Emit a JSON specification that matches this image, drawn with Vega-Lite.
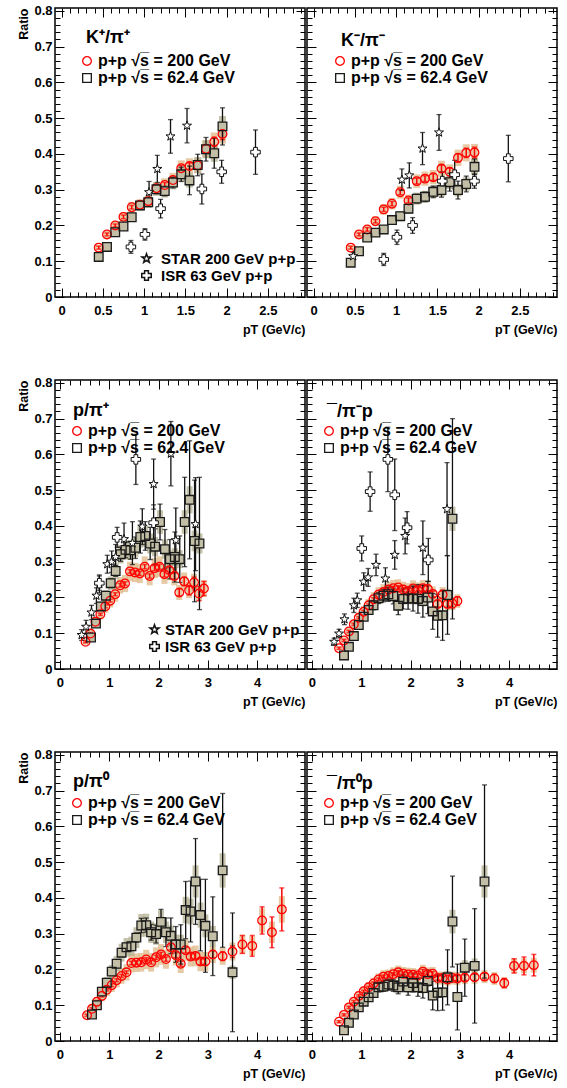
{
"$schema":"https://vega.github.io/schema/vega-lite/v6.json",
"padding":{"left":17,"top":4,"right":0,"bottom":0},
"background":"#ffffff",
"datasets":{"d":[
{"p":1,"s":"a","x":0.45,"y":0.138,"e":0.004,"u":0.008},{"p":1,"s":"a","x":0.55,"y":0.175,"e":0.004,"u":0.01},{"p":1,"s":"a","x":0.65,"y":0.2,"e":0.004,"u":0.012},{"p":1,"s":"a","x":0.75,"y":0.224,"e":0.005,"u":0.013},{"p":1,"s":"a","x":0.85,"y":0.251,"e":0.005,"u":0.015},{"p":1,"s":"a","x":0.95,"y":0.258,"e":0.005,"u":0.015},{"p":1,"s":"a","x":1.05,"y":0.268,"e":0.006,"u":0.016},{"p":1,"s":"a","x":1.15,"y":0.304,"e":0.006,"u":0.018},{"p":1,"s":"a","x":1.25,"y":0.313,"e":0.007,"u":0.019},{"p":1,"s":"a","x":1.35,"y":0.327,"e":0.007,"u":0.02},{"p":1,"s":"a","x":1.45,"y":0.36,"e":0.008,"u":0.022},{"p":1,"s":"a","x":1.55,"y":0.366,"e":0.009,"u":0.022},{"p":1,"s":"a","x":1.65,"y":0.368,"e":0.01,"u":0.022},{"p":1,"s":"a","x":1.75,"y":0.414,"e":0.011,"u":0.025},{"p":1,"s":"a","x":1.85,"y":0.434,"e":0.013,"u":0.026},{"p":1,"s":"a","x":1.95,"y":0.456,"e":0.016,"u":0.027},
{"p":1,"s":"b","x":0.45,"y":0.112,"e":0.004,"u":0.007},{"p":1,"s":"b","x":0.55,"y":0.14,"e":0.005,"u":0.008},{"p":1,"s":"b","x":0.65,"y":0.181,"e":0.006,"u":0.011},{"p":1,"s":"b","x":0.75,"y":0.197,"e":0.007,"u":0.012},{"p":1,"s":"b","x":0.85,"y":0.223,"e":0.008,"u":0.013},{"p":1,"s":"b","x":0.95,"y":0.256,"e":0.009,"u":0.015},{"p":1,"s":"b","x":1.05,"y":0.265,"e":0.01,"u":0.016},{"p":1,"s":"b","x":1.15,"y":0.301,"e":0.012,"u":0.018},{"p":1,"s":"b","x":1.25,"y":0.296,"e":0.013,"u":0.018},{"p":1,"s":"b","x":1.35,"y":0.32,"e":0.015,"u":0.019},{"p":1,"s":"b","x":1.45,"y":0.343,"e":0.02,"u":0.021},{"p":1,"s":"b","x":1.55,"y":0.326,"e":0.04,"u":0.02},{"p":1,"s":"b","x":1.65,"y":0.369,"e":0.03,"u":0.022},{"p":1,"s":"b","x":1.75,"y":0.413,"e":0.033,"u":0.025},{"p":1,"s":"b","x":1.85,"y":0.402,"e":0.042,"u":0.024},{"p":1,"s":"b","x":1.95,"y":0.477,"e":0.052,"u":0.029},
{"p":1,"s":"S","x":1.06,"y":0.293,"e":0.03},{"p":1,"s":"S","x":1.16,"y":0.358,"e":0.038},{"p":1,"s":"S","x":1.32,"y":0.449,"e":0.047},{"p":1,"s":"S","x":1.52,"y":0.479,"e":0.048},
{"p":1,"s":"I","x":0.84,"y":0.14,"e":0.018},{"p":1,"s":"I","x":1.01,"y":0.175,"e":0.016},{"p":1,"s":"I","x":1.2,"y":0.247,"e":0.026},{"p":1,"s":"I","x":1.7,"y":0.302,"e":0.042},{"p":1,"s":"I","x":1.94,"y":0.35,"e":0.032},{"p":1,"s":"I","x":2.35,"y":0.405,"e":0.062},
{"p":2,"s":"a","x":0.45,"y":0.138,"e":0.004,"u":0.008},{"p":2,"s":"a","x":0.55,"y":0.175,"e":0.004,"u":0.011},{"p":2,"s":"a","x":0.65,"y":0.189,"e":0.005,"u":0.011},{"p":2,"s":"a","x":0.75,"y":0.212,"e":0.005,"u":0.013},{"p":2,"s":"a","x":0.85,"y":0.245,"e":0.006,"u":0.015},{"p":2,"s":"a","x":0.95,"y":0.261,"e":0.006,"u":0.016},{"p":2,"s":"a","x":1.05,"y":0.293,"e":0.007,"u":0.018},{"p":2,"s":"a","x":1.15,"y":0.27,"e":0.007,"u":0.016},{"p":2,"s":"a","x":1.25,"y":0.324,"e":0.008,"u":0.019},{"p":2,"s":"a","x":1.35,"y":0.331,"e":0.008,"u":0.02},{"p":2,"s":"a","x":1.45,"y":0.335,"e":0.009,"u":0.02},{"p":2,"s":"a","x":1.55,"y":0.359,"e":0.01,"u":0.022},{"p":2,"s":"a","x":1.65,"y":0.35,"e":0.011,"u":0.021},{"p":2,"s":"a","x":1.75,"y":0.389,"e":0.012,"u":0.023},{"p":2,"s":"a","x":1.85,"y":0.403,"e":0.013,"u":0.024},{"p":2,"s":"a","x":1.95,"y":0.404,"e":0.015,"u":0.024},
{"p":2,"s":"b","x":0.45,"y":0.096,"e":0.004,"u":0.006},{"p":2,"s":"b","x":0.55,"y":0.128,"e":0.005,"u":0.008},{"p":2,"s":"b","x":0.65,"y":0.166,"e":0.006,"u":0.01},{"p":2,"s":"b","x":0.75,"y":0.18,"e":0.006,"u":0.011},{"p":2,"s":"b","x":0.85,"y":0.189,"e":0.007,"u":0.011},{"p":2,"s":"b","x":0.95,"y":0.215,"e":0.008,"u":0.013},{"p":2,"s":"b","x":1.05,"y":0.226,"e":0.009,"u":0.014},{"p":2,"s":"b","x":1.15,"y":0.247,"e":0.01,"u":0.015},{"p":2,"s":"b","x":1.25,"y":0.275,"e":0.012,"u":0.017},{"p":2,"s":"b","x":1.35,"y":0.28,"e":0.013,"u":0.017},{"p":2,"s":"b","x":1.45,"y":0.294,"e":0.016,"u":0.018},{"p":2,"s":"b","x":1.55,"y":0.299,"e":0.02,"u":0.018},{"p":2,"s":"b","x":1.65,"y":0.321,"e":0.025,"u":0.019},{"p":2,"s":"b","x":1.75,"y":0.299,"e":0.025,"u":0.018},{"p":2,"s":"b","x":1.85,"y":0.316,"e":0.022,"u":0.019},{"p":2,"s":"b","x":1.95,"y":0.364,"e":0.022,"u":0.022},
{"p":2,"s":"S","x":0.48,"y":0.114,"e":0.01},{"p":2,"s":"S","x":1.07,"y":0.328,"e":0.03},{"p":2,"s":"S","x":1.16,"y":0.34,"e":0.035},{"p":2,"s":"S","x":1.32,"y":0.415,"e":0.045},{"p":2,"s":"S","x":1.52,"y":0.46,"e":0.05},
{"p":2,"s":"I","x":0.85,"y":0.105,"e":0.017},{"p":2,"s":"I","x":1.01,"y":0.167,"e":0.02},{"p":2,"s":"I","x":1.2,"y":0.2,"e":0.022},{"p":2,"s":"I","x":1.56,"y":0.324,"e":0.025},{"p":2,"s":"I","x":1.71,"y":0.342,"e":0.04},{"p":2,"s":"I","x":1.95,"y":0.324,"e":0.02},{"p":2,"s":"I","x":2.36,"y":0.387,"e":0.065},
{"p":3,"s":"a","x":0.52,"y":0.076,"e":0.003,"u":0.008},{"p":3,"s":"a","x":0.62,"y":0.099,"e":0.003,"u":0.01},{"p":3,"s":"a","x":0.72,"y":0.132,"e":0.003,"u":0.013},{"p":3,"s":"a","x":0.82,"y":0.153,"e":0.003,"u":0.015},{"p":3,"s":"a","x":0.92,"y":0.175,"e":0.004,"u":0.018},{"p":3,"s":"a","x":1.02,"y":0.191,"e":0.004,"u":0.019},{"p":3,"s":"a","x":1.12,"y":0.209,"e":0.004,"u":0.021},{"p":3,"s":"a","x":1.22,"y":0.234,"e":0.005,"u":0.023},{"p":3,"s":"a","x":1.32,"y":0.239,"e":0.005,"u":0.024},{"p":3,"s":"a","x":1.42,"y":0.273,"e":0.005,"u":0.027},{"p":3,"s":"a","x":1.52,"y":0.27,"e":0.005,"u":0.027},{"p":3,"s":"a","x":1.62,"y":0.267,"e":0.006,"u":0.027},{"p":3,"s":"a","x":1.72,"y":0.286,"e":0.006,"u":0.029},{"p":3,"s":"a","x":1.82,"y":0.26,"e":0.006,"u":0.026},{"p":3,"s":"a","x":1.92,"y":0.282,"e":0.007,"u":0.028},{"p":3,"s":"a","x":2.02,"y":0.286,"e":0.007,"u":0.029},{"p":3,"s":"a","x":2.12,"y":0.265,"e":0.008,"u":0.027},{"p":3,"s":"a","x":2.22,"y":0.276,"e":0.008,"u":0.028},{"p":3,"s":"a","x":2.32,"y":0.26,"e":0.009,"u":0.026},{"p":3,"s":"a","x":2.42,"y":0.214,"e":0.01,"u":0.021},{"p":3,"s":"a","x":2.52,"y":0.245,"e":0.012,"u":0.025},{"p":3,"s":"a","x":2.62,"y":0.22,"e":0.013,"u":0.022},{"p":3,"s":"a","x":2.72,"y":0.242,"e":0.015,"u":0.024},{"p":3,"s":"a","x":2.82,"y":0.211,"e":0.02,"u":0.021},{"p":3,"s":"a","x":2.92,"y":0.225,"e":0.02,"u":0.023},
{"p":3,"s":"b","x":0.63,"y":0.088,"e":0.005,"u":0.007},{"p":3,"s":"b","x":0.73,"y":0.127,"e":0.007,"u":0.01},{"p":3,"s":"b","x":0.83,"y":0.175,"e":0.009,"u":0.014},{"p":3,"s":"b","x":0.93,"y":0.205,"e":0.01,"u":0.016},{"p":3,"s":"b","x":1.03,"y":0.24,"e":0.012,"u":0.019},{"p":3,"s":"b","x":1.13,"y":0.274,"e":0.015,"u":0.022},{"p":3,"s":"b","x":1.23,"y":0.321,"e":0.02,"u":0.026},{"p":3,"s":"b","x":1.33,"y":0.333,"e":0.022,"u":0.027},{"p":3,"s":"b","x":1.43,"y":0.332,"e":0.025,"u":0.027},{"p":3,"s":"b","x":1.53,"y":0.339,"e":0.03,"u":0.027},{"p":3,"s":"b","x":1.63,"y":0.369,"e":0.045,"u":0.03},{"p":3,"s":"b","x":1.73,"y":0.372,"e":0.04,"u":0.03},{"p":3,"s":"b","x":1.83,"y":0.351,"e":0.045,"u":0.028},{"p":3,"s":"b","x":1.93,"y":0.342,"e":0.05,"u":0.027},{"p":3,"s":"b","x":2.03,"y":0.411,"e":0.05,"u":0.033},{"p":3,"s":"b","x":2.13,"y":0.335,"e":0.055,"u":0.027},{"p":3,"s":"b","x":2.23,"y":0.307,"e":0.055,"u":0.025},{"p":3,"s":"b","x":2.33,"y":0.313,"e":0.07,"u":0.025},{"p":3,"s":"b","x":2.43,"y":0.307,"e":0.065,"u":0.025},{"p":3,"s":"b","x":2.53,"y":0.411,"e":0.125,"u":0.033},{"p":3,"s":"b","x":2.63,"y":0.473,"e":0.165,"u":0.038},{"p":3,"s":"b","x":2.73,"y":0.358,"e":0.17,"u":0.029},{"p":3,"s":"b","x":2.83,"y":0.351,"e":0.185,"u":0.028},
{"p":3,"s":"S","x":0.44,"y":0.095,"e":0.015},{"p":3,"s":"S","x":0.53,"y":0.118,"e":0.018},{"p":3,"s":"S","x":0.64,"y":0.158,"e":0.02},{"p":3,"s":"S","x":0.74,"y":0.205,"e":0.022},{"p":3,"s":"S","x":0.8,"y":0.238,"e":0.025},{"p":3,"s":"S","x":0.96,"y":0.293,"e":0.025},{"p":3,"s":"S","x":1.05,"y":0.3,"e":0.03},{"p":3,"s":"S","x":1.13,"y":0.313,"e":0.035},{"p":3,"s":"S","x":1.3,"y":0.363,"e":0.045},{"p":3,"s":"S","x":1.47,"y":0.352,"e":0.06},{"p":3,"s":"S","x":1.67,"y":0.398,"e":0.05},{"p":3,"s":"S","x":1.9,"y":0.517,"e":0.07},{"p":3,"s":"S","x":2.25,"y":0.602,"e":0.09},{"p":3,"s":"S","x":2.35,"y":0.36,"e":0.09},{"p":3,"s":"S","x":2.75,"y":0.405,"e":0.13},
{"p":3,"s":"I","x":0.8,"y":0.24,"e":0.02},{"p":3,"s":"I","x":1.16,"y":0.368,"e":0.028},{"p":3,"s":"I","x":1.54,"y":0.586,"e":0.07},{"p":3,"s":"I","x":1.9,"y":0.409,"e":0.05},
{"p":4,"s":"a","x":0.55,"y":0.058,"e":0.003,"u":0.006},{"p":4,"s":"a","x":0.65,"y":0.08,"e":0.003,"u":0.008},{"p":4,"s":"a","x":0.75,"y":0.105,"e":0.003,"u":0.011},{"p":4,"s":"a","x":0.85,"y":0.125,"e":0.003,"u":0.013},{"p":4,"s":"a","x":0.95,"y":0.143,"e":0.003,"u":0.014},{"p":4,"s":"a","x":1.05,"y":0.16,"e":0.004,"u":0.016},{"p":4,"s":"a","x":1.15,"y":0.178,"e":0.004,"u":0.018},{"p":4,"s":"a","x":1.25,"y":0.195,"e":0.004,"u":0.02},{"p":4,"s":"a","x":1.35,"y":0.208,"e":0.004,"u":0.021},{"p":4,"s":"a","x":1.45,"y":0.215,"e":0.005,"u":0.022},{"p":4,"s":"a","x":1.55,"y":0.222,"e":0.005,"u":0.022},{"p":4,"s":"a","x":1.65,"y":0.226,"e":0.005,"u":0.023},{"p":4,"s":"a","x":1.75,"y":0.228,"e":0.005,"u":0.023},{"p":4,"s":"a","x":1.85,"y":0.222,"e":0.006,"u":0.022},{"p":4,"s":"a","x":1.95,"y":0.218,"e":0.006,"u":0.022},{"p":4,"s":"a","x":2.05,"y":0.225,"e":0.006,"u":0.023},{"p":4,"s":"a","x":2.15,"y":0.22,"e":0.007,"u":0.022},{"p":4,"s":"a","x":2.25,"y":0.226,"e":0.007,"u":0.023},{"p":4,"s":"a","x":2.35,"y":0.224,"e":0.008,"u":0.022},{"p":4,"s":"a","x":2.45,"y":0.21,"e":0.008,"u":0.021},{"p":4,"s":"a","x":2.55,"y":0.182,"e":0.009,"u":0.018},{"p":4,"s":"a","x":2.65,"y":0.208,"e":0.01,"u":0.021},{"p":4,"s":"a","x":2.75,"y":0.182,"e":0.01,"u":0.018},{"p":4,"s":"a","x":2.85,"y":0.183,"e":0.012,"u":0.018},{"p":4,"s":"a","x":2.95,"y":0.19,"e":0.012,"u":0.019},
{"p":4,"s":"b","x":0.65,"y":0.038,"e":0.004,"u":0.004},{"p":4,"s":"b","x":0.75,"y":0.062,"e":0.005,"u":0.005},{"p":4,"s":"b","x":0.85,"y":0.092,"e":0.006,"u":0.007},{"p":4,"s":"b","x":0.95,"y":0.123,"e":0.007,"u":0.01},{"p":4,"s":"b","x":1.05,"y":0.146,"e":0.008,"u":0.012},{"p":4,"s":"b","x":1.15,"y":0.165,"e":0.01,"u":0.013},{"p":4,"s":"b","x":1.25,"y":0.178,"e":0.012,"u":0.014},{"p":4,"s":"b","x":1.35,"y":0.198,"e":0.015,"u":0.016},{"p":4,"s":"b","x":1.45,"y":0.205,"e":0.017,"u":0.016},{"p":4,"s":"b","x":1.55,"y":0.209,"e":0.02,"u":0.017},{"p":4,"s":"b","x":1.65,"y":0.204,"e":0.022,"u":0.016},{"p":4,"s":"b","x":1.75,"y":0.177,"e":0.025,"u":0.014},{"p":4,"s":"b","x":1.85,"y":0.196,"e":0.028,"u":0.016},{"p":4,"s":"b","x":1.95,"y":0.197,"e":0.03,"u":0.016},{"p":4,"s":"b","x":2.05,"y":0.197,"e":0.035,"u":0.016},{"p":4,"s":"b","x":2.15,"y":0.196,"e":0.04,"u":0.016},{"p":4,"s":"b","x":2.25,"y":0.19,"e":0.045,"u":0.015},{"p":4,"s":"b","x":2.35,"y":0.2,"e":0.045,"u":0.016},{"p":4,"s":"b","x":2.45,"y":0.161,"e":0.05,"u":0.013},{"p":4,"s":"b","x":2.55,"y":0.149,"e":0.06,"u":0.012},{"p":4,"s":"b","x":2.65,"y":0.15,"e":0.07,"u":0.012},{"p":4,"s":"b","x":2.75,"y":0.207,"e":0.11,"u":0.017},{"p":4,"s":"b","x":2.85,"y":0.42,"e":0.28,"u":0.034},
{"p":4,"s":"S","x":0.45,"y":0.076,"e":0.01},{"p":4,"s":"S","x":0.55,"y":0.099,"e":0.012},{"p":4,"s":"S","x":0.66,"y":0.139,"e":0.015},{"p":4,"s":"S","x":0.85,"y":0.178,"e":0.02},{"p":4,"s":"S","x":0.92,"y":0.192,"e":0.02},{"p":4,"s":"S","x":1.05,"y":0.244,"e":0.025},{"p":4,"s":"S","x":1.14,"y":0.256,"e":0.025},{"p":4,"s":"S","x":1.3,"y":0.291,"e":0.03},{"p":4,"s":"S","x":1.49,"y":0.253,"e":0.03},{"p":4,"s":"S","x":1.68,"y":0.319,"e":0.04},{"p":4,"s":"S","x":1.89,"y":0.372,"e":0.05},{"p":4,"s":"S","x":2.25,"y":0.339,"e":0.075},{"p":4,"s":"S","x":2.74,"y":0.447,"e":0.13},
{"p":4,"s":"I","x":1.01,"y":0.337,"e":0.035},{"p":4,"s":"I","x":1.18,"y":0.496,"e":0.055},{"p":4,"s":"I","x":1.54,"y":0.586,"e":0.09},{"p":4,"s":"I","x":1.68,"y":0.487,"e":0.1},{"p":4,"s":"I","x":1.93,"y":0.395,"e":0.045},{"p":4,"s":"I","x":2.36,"y":0.305,"e":0.06},
{"p":5,"s":"a","x":0.55,"y":0.072,"e":0.003,"u":0.009},{"p":5,"s":"a","x":0.65,"y":0.09,"e":0.003,"u":0.011},{"p":5,"s":"a","x":0.75,"y":0.11,"e":0.003,"u":0.013},{"p":5,"s":"a","x":0.85,"y":0.126,"e":0.003,"u":0.015},{"p":5,"s":"a","x":0.95,"y":0.143,"e":0.003,"u":0.017},{"p":5,"s":"a","x":1.05,"y":0.156,"e":0.004,"u":0.019},{"p":5,"s":"a","x":1.15,"y":0.17,"e":0.004,"u":0.02},{"p":5,"s":"a","x":1.25,"y":0.182,"e":0.004,"u":0.022},{"p":5,"s":"a","x":1.35,"y":0.192,"e":0.004,"u":0.023},{"p":5,"s":"a","x":1.45,"y":0.218,"e":0.005,"u":0.026},{"p":5,"s":"a","x":1.55,"y":0.219,"e":0.005,"u":0.026},{"p":5,"s":"a","x":1.65,"y":0.22,"e":0.005,"u":0.026},{"p":5,"s":"a","x":1.75,"y":0.228,"e":0.005,"u":0.027},{"p":5,"s":"a","x":1.85,"y":0.22,"e":0.005,"u":0.026},{"p":5,"s":"a","x":1.95,"y":0.234,"e":0.006,"u":0.028},{"p":5,"s":"a","x":2.05,"y":0.242,"e":0.006,"u":0.029},{"p":5,"s":"a","x":2.15,"y":0.229,"e":0.006,"u":0.027},{"p":5,"s":"a","x":2.25,"y":0.262,"e":0.007,"u":0.031},{"p":5,"s":"a","x":2.35,"y":0.24,"e":0.007,"u":0.029},{"p":5,"s":"a","x":2.45,"y":0.216,"e":0.007,"u":0.026},{"p":5,"s":"a","x":2.55,"y":0.254,"e":0.008,"u":0.03},{"p":5,"s":"a","x":2.65,"y":0.236,"e":0.008,"u":0.028},{"p":5,"s":"a","x":2.75,"y":0.238,"e":0.009,"u":0.029},{"p":5,"s":"a","x":2.85,"y":0.222,"e":0.009,"u":0.027},{"p":5,"s":"a","x":2.95,"y":0.222,"e":0.01,"u":0.027},{"p":5,"s":"a","x":3.1,"y":0.242,"e":0.01,"u":0.024},{"p":5,"s":"a","x":3.3,"y":0.237,"e":0.012,"u":0.024},{"p":5,"s":"a","x":3.5,"y":0.25,"e":0.016,"u":0.025},{"p":5,"s":"a","x":3.7,"y":0.27,"e":0.025,"u":0.027},{"p":5,"s":"a","x":3.9,"y":0.266,"e":0.029,"u":0.027},{"p":5,"s":"a","x":4.1,"y":0.337,"e":0.038,"u":0.034},{"p":5,"s":"a","x":4.3,"y":0.304,"e":0.043,"u":0.03},{"p":5,"s":"a","x":4.5,"y":0.368,"e":0.06,"u":0.037},
{"p":5,"s":"b","x":0.65,"y":0.074,"e":0.004,"u":0.007},{"p":5,"s":"b","x":0.75,"y":0.1,"e":0.005,"u":0.01},{"p":5,"s":"b","x":0.85,"y":0.138,"e":0.006,"u":0.014},{"p":5,"s":"b","x":0.95,"y":0.163,"e":0.007,"u":0.016},{"p":5,"s":"b","x":1.05,"y":0.194,"e":0.008,"u":0.019},{"p":5,"s":"b","x":1.15,"y":0.216,"e":0.009,"u":0.022},{"p":5,"s":"b","x":1.25,"y":0.247,"e":0.01,"u":0.025},{"p":5,"s":"b","x":1.35,"y":0.262,"e":0.011,"u":0.026},{"p":5,"s":"b","x":1.45,"y":0.265,"e":0.012,"u":0.027},{"p":5,"s":"b","x":1.55,"y":0.289,"e":0.013,"u":0.029},{"p":5,"s":"b","x":1.65,"y":0.323,"e":0.02,"u":0.032},{"p":5,"s":"b","x":1.75,"y":0.324,"e":0.02,"u":0.032},{"p":5,"s":"b","x":1.85,"y":0.304,"e":0.022,"u":0.03},{"p":5,"s":"b","x":1.95,"y":0.299,"e":0.025,"u":0.03},{"p":5,"s":"b","x":2.05,"y":0.333,"e":0.035,"u":0.033},{"p":5,"s":"b","x":2.15,"y":0.304,"e":0.04,"u":0.03},{"p":5,"s":"b","x":2.25,"y":0.294,"e":0.05,"u":0.029},{"p":5,"s":"b","x":2.35,"y":0.27,"e":0.05,"u":0.027},{"p":5,"s":"b","x":2.45,"y":0.27,"e":0.055,"u":0.027},{"p":5,"s":"b","x":2.55,"y":0.366,"e":0.08,"u":0.037},{"p":5,"s":"b","x":2.65,"y":0.362,"e":0.085,"u":0.036},{"p":5,"s":"b","x":2.75,"y":0.446,"e":0.12,"u":0.045},{"p":5,"s":"b","x":2.85,"y":0.352,"e":0.1,"u":0.035},{"p":5,"s":"b","x":2.95,"y":0.322,"e":0.13,"u":0.032},{"p":5,"s":"b","x":3.1,"y":0.293,"e":0.11,"u":0.029},{"p":5,"s":"b","x":3.3,"y":0.477,"e":0.215,"u":0.048},{"p":5,"s":"b","x":3.5,"y":0.192,"e":0.166,"u":0.019},
{"p":6,"s":"a","x":0.55,"y":0.054,"e":0.003,"u":0.005},{"p":6,"s":"a","x":0.65,"y":0.073,"e":0.003,"u":0.007},{"p":6,"s":"a","x":0.75,"y":0.094,"e":0.003,"u":0.009},{"p":6,"s":"a","x":0.85,"y":0.11,"e":0.003,"u":0.011},{"p":6,"s":"a","x":0.95,"y":0.126,"e":0.003,"u":0.013},{"p":6,"s":"a","x":1.05,"y":0.139,"e":0.003,"u":0.014},{"p":6,"s":"a","x":1.15,"y":0.15,"e":0.003,"u":0.015},{"p":6,"s":"a","x":1.25,"y":0.161,"e":0.004,"u":0.016},{"p":6,"s":"a","x":1.35,"y":0.172,"e":0.004,"u":0.017},{"p":6,"s":"a","x":1.45,"y":0.18,"e":0.004,"u":0.018},{"p":6,"s":"a","x":1.55,"y":0.182,"e":0.004,"u":0.018},{"p":6,"s":"a","x":1.65,"y":0.187,"e":0.004,"u":0.019},{"p":6,"s":"a","x":1.75,"y":0.192,"e":0.005,"u":0.019},{"p":6,"s":"a","x":1.85,"y":0.188,"e":0.005,"u":0.019},{"p":6,"s":"a","x":1.95,"y":0.186,"e":0.005,"u":0.019},{"p":6,"s":"a","x":2.05,"y":0.185,"e":0.005,"u":0.019},{"p":6,"s":"a","x":2.15,"y":0.183,"e":0.005,"u":0.018},{"p":6,"s":"a","x":2.25,"y":0.194,"e":0.006,"u":0.019},{"p":6,"s":"a","x":2.35,"y":0.187,"e":0.006,"u":0.019},{"p":6,"s":"a","x":2.45,"y":0.188,"e":0.006,"u":0.019},{"p":6,"s":"a","x":2.55,"y":0.176,"e":0.006,"u":0.018},{"p":6,"s":"a","x":2.65,"y":0.176,"e":0.007,"u":0.018},{"p":6,"s":"a","x":2.75,"y":0.172,"e":0.007,"u":0.017},{"p":6,"s":"a","x":2.85,"y":0.176,"e":0.007,"u":0.018},{"p":6,"s":"a","x":2.95,"y":0.175,"e":0.008,"u":0.018},{"p":6,"s":"a","x":3.1,"y":0.177,"e":0.008,"u":0.018},{"p":6,"s":"a","x":3.3,"y":0.178,"e":0.009,"u":0.018},{"p":6,"s":"a","x":3.5,"y":0.18,"e":0.01,"u":0.018},{"p":6,"s":"a","x":3.7,"y":0.175,"e":0.011,"u":0.018},{"p":6,"s":"a","x":3.9,"y":0.162,"e":0.013,"u":0.016},{"p":6,"s":"a","x":4.1,"y":0.21,"e":0.02,"u":0.021},{"p":6,"s":"a","x":4.3,"y":0.21,"e":0.025,"u":0.021},{"p":6,"s":"a","x":4.5,"y":0.212,"e":0.03,"u":0.021},
{"p":6,"s":"b","x":0.65,"y":0.03,"e":0.004,"u":0.003},{"p":6,"s":"b","x":0.75,"y":0.051,"e":0.005,"u":0.005},{"p":6,"s":"b","x":0.85,"y":0.074,"e":0.006,"u":0.007},{"p":6,"s":"b","x":0.95,"y":0.094,"e":0.007,"u":0.009},{"p":6,"s":"b","x":1.05,"y":0.11,"e":0.008,"u":0.011},{"p":6,"s":"b","x":1.15,"y":0.122,"e":0.009,"u":0.012},{"p":6,"s":"b","x":1.25,"y":0.134,"e":0.01,"u":0.013},{"p":6,"s":"b","x":1.35,"y":0.15,"e":0.012,"u":0.015},{"p":6,"s":"b","x":1.45,"y":0.152,"e":0.013,"u":0.015},{"p":6,"s":"b","x":1.55,"y":0.158,"e":0.015,"u":0.016},{"p":6,"s":"b","x":1.65,"y":0.155,"e":0.016,"u":0.016},{"p":6,"s":"b","x":1.75,"y":0.15,"e":0.018,"u":0.015},{"p":6,"s":"b","x":1.85,"y":0.166,"e":0.02,"u":0.017},{"p":6,"s":"b","x":1.95,"y":0.15,"e":0.022,"u":0.015},{"p":6,"s":"b","x":2.05,"y":0.162,"e":0.025,"u":0.016},{"p":6,"s":"b","x":2.15,"y":0.15,"e":0.025,"u":0.015},{"p":6,"s":"b","x":2.25,"y":0.148,"e":0.028,"u":0.015},{"p":6,"s":"b","x":2.35,"y":0.168,"e":0.03,"u":0.017},{"p":6,"s":"b","x":2.45,"y":0.127,"e":0.04,"u":0.013},{"p":6,"s":"b","x":2.55,"y":0.135,"e":0.05,"u":0.014},{"p":6,"s":"b","x":2.65,"y":0.136,"e":0.05,"u":0.014},{"p":6,"s":"b","x":2.75,"y":0.178,"e":0.077,"u":0.018},{"p":6,"s":"b","x":2.85,"y":0.334,"e":0.127,"u":0.033},{"p":6,"s":"b","x":2.95,"y":0.123,"e":0.092,"u":0.012},{"p":6,"s":"b","x":3.1,"y":0.205,"e":0.08,"u":0.021},{"p":6,"s":"b","x":3.3,"y":0.21,"e":0.16,"u":0.021},{"p":6,"s":"b","x":3.5,"y":0.446,"e":0.27,"u":0.045}
]},
"columns":2,
"bounds":"flush",
"spacing":{"row":83,"column":2},
"resolve":{"scale":{"shape":"independent","stroke":"independent"}},
"concat":[
{"width":250,"height":289,
 "title":{"text":"K⁺/π⁺","anchor":"start","frame":"group","offset":-56,"dx":31,"baseline":"alphabetic","fontSize":18,"fontWeight":"bold","color":"#000"},
 "data":{"name":"d"},
 "transform":[{"filter":"datum.p==1"}],
 "encoding":{"x":{"field":"x","type":"quantitative","scale":{"domain":[-0.08,2.95],"nice":false,"zero":false},"axis":null},"y":{"field":"y","type":"quantitative","scale":{"domain":[0,0.808],"nice":false,"zero":false},"axis":null}},
 "resolve":{"axis":{"x":"independent","y":"independent"},"scale":{"shape":"independent","stroke":"independent"}},
 "layer":[
  {"transform":[{"filter":"datum.s=='a'"}],"mark":{"type":"errorbar","color":"#deb887","opacity":0.75,"thickness":7},"encoding":{"yError":{"field":"u"}}},
  {"transform":[{"filter":"datum.s=='b'"}],"mark":{"type":"errorbar","color":"#b3b092","opacity":0.75,"thickness":7},"encoding":{"yError":{"field":"u"}}},
  {"transform":[{"filter":"datum.s=='a'"}],"mark":{"type":"errorbar","color":"#ff0000","thickness":1.5,"ticks":true,"size":5},"encoding":{"yError":{"field":"e"}}},
  {"transform":[{"filter":"datum.s!='a'"}],"mark":{"type":"errorbar","color":"#111111","thickness":1.3,"ticks":true,"size":5},"encoding":{"yError":{"field":"e"}}},
  {"transform":[{"filter":"datum.s=='b'"}],"mark":{"type":"point","shape":"square","filled":true,"color":"#c3bfa6","size":75,"opacity":1},
   "encoding":{"x":{"field":"x","type":"quantitative","axis":{"orient":"top","values":[0,0.1,0.2,0.3,0.4,0.5,0.6,0.7,0.8,0.9,1,1.1,1.2,1.3,1.4,1.5,1.6,1.7,1.8,1.9,2,2.1,2.2,2.3,2.4,2.5,2.6,2.7,2.8,2.9],"tickSize":{"condition":{"test":"round(datum.value*10)%5==0","value":-9},"value":-5},"labels":false,"title":null}},
   "y":{"field":"y","type":"quantitative","axis":{"orient":"right","values":[0,0.02,0.04,0.06,0.08,0.1,0.12,0.14,0.16,0.18,0.2,0.22,0.24,0.26,0.28,0.3,0.32,0.34,0.36,0.38,0.4,0.42,0.44,0.46,0.48,0.5,0.52,0.54,0.56,0.58,0.6,0.62,0.64,0.66,0.68,0.7,0.72,0.74,0.76,0.78,0.8],"tickSize":{"condition":{"test":"round(datum.value*100)%10==0","value":-9},"value":-5},"labels":false,"title":null}}}},
  {"transform":[{"filter":"datum.s=='a'||datum.s=='b'"}],"mark":{"type":"point","filled":false,"size":75,"strokeWidth":1.3,"opacity":1},
   "encoding":{"x":{"field":"x","type":"quantitative","axis":{"orient":"bottom","values":[0,0.1,0.2,0.3,0.4,0.5,0.6,0.7,0.8,0.9,1,1.1,1.2,1.3,1.4,1.5,1.6,1.7,1.8,1.9,2,2.1,2.2,2.3,2.4,2.5,2.6,2.7,2.8,2.9],"tickSize":{"condition":{"test":"round(datum.value*10)%5==0","value":-9},"value":-5},"labelExpr":"round(datum.value*10)%5==0 ? format(datum.value,'~g') : ''","labelPadding":16,"title":"pT (GeV/c)","titleAnchor":"end","titlePadding":2}},
   "y":{"field":"y","type":"quantitative","axis":{"orient":"left","values":[0,0.02,0.04,0.06,0.08,0.1,0.12,0.14,0.16,0.18,0.2,0.22,0.24,0.26,0.28,0.3,0.32,0.34,0.36,0.38,0.4,0.42,0.44,0.46,0.48,0.5,0.52,0.54,0.56,0.58,0.6,0.62,0.64,0.66,0.68,0.7,0.72,0.74,0.76,0.78,0.8],"tickSize":{"condition":{"test":"round(datum.value*100)%10==0","value":-9},"value":-5},"labelExpr":"round(datum.value*100)%10==0 ? format(datum.value,'~g') : ''","labelPadding":12,"title":"Ratio","titleAnchor":"end","titlePadding":3}},
   "shape":{"field":"s","type":"nominal","scale":{"domain":["a","b"],"range":["circle","square"]},"legend":{"orient":"none","legendX":24,"legendY":45,"title":null,"padding":0,"labelExpr":"datum.label=='a' ? 'p+p √s̅ = 200 GeV' : 'p+p √s̅ = 62.4 GeV'","labelFontSize":16,"labelFontWeight":"bold","labelColor":"#000","symbolSize":75,"symbolStrokeWidth":1.3,"labelOffset":3,"rowPadding":1}},
   "stroke":{"field":"s","type":"nominal","scale":{"domain":["a","b"],"range":["#ff0000","#1a1a1a"]},"legend":{"orient":"none","legendX":24,"legendY":45,"title":null,"padding":0,"labelExpr":"datum.label=='a' ? 'p+p √s̅ = 200 GeV' : 'p+p √s̅ = 62.4 GeV'","labelFontSize":16,"labelFontWeight":"bold","labelColor":"#000","symbolSize":75,"symbolStrokeWidth":1.3,"labelOffset":3,"rowPadding":1}}}},
  {"transform":[{"filter":"datum.s=='S'||datum.s=='I'"}],"mark":{"type":"point","filled":true,"fill":"#ffffff","stroke":"#111111","strokeWidth":1,"size":90,"opacity":1},
   "encoding":{"shape":{"field":"s","type":"nominal","scale":{"domain":["S","I"],"range":["M0,-1L0.235,-0.324L0.951,-0.309L0.38,0.124L0.588,0.809L0,0.4L-0.588,0.809L-0.38,0.124L-0.951,-0.309L-0.235,-0.324Z","cross"]},"legend":{"orient":"none","legendX":84,"legendY":243,"title":null,"padding":0,"labelExpr":"datum.label=='S' ? 'STAR 200 GeV p+p' : 'ISR 63 GeV p+p'","labelFontSize":15,"labelFontWeight":"bold","labelColor":"#000","symbolSize":90,"labelOffset":7,"rowPadding":0,"encode":{"symbols":{"update":{"fill":{"value":"#ffffff"},"stroke":{"value":"#111111"},"strokeWidth":{"value":1},"opacity":{"value":1}}}}}}}}
 ]},
{"width":250,"height":289,
 "title":{"text":"K⁻/π⁻","anchor":"start","frame":"group","offset":-56,"dx":34,"baseline":"alphabetic","fontSize":18,"fontWeight":"bold","color":"#000"},
 "data":{"name":"d"},
 "transform":[{"filter":"datum.p==2"}],
 "encoding":{"x":{"field":"x","type":"quantitative","scale":{"domain":[-0.08,2.95],"nice":false,"zero":false},"axis":null},"y":{"field":"y","type":"quantitative","scale":{"domain":[0,0.808],"nice":false,"zero":false},"axis":null}},
 "resolve":{"axis":{"x":"independent","y":"independent"},"scale":{"shape":"independent","stroke":"independent"}},
 "layer":[
  {"transform":[{"filter":"datum.s=='a'"}],"mark":{"type":"errorbar","color":"#deb887","opacity":0.75,"thickness":7},"encoding":{"yError":{"field":"u"}}},
  {"transform":[{"filter":"datum.s=='b'"}],"mark":{"type":"errorbar","color":"#b3b092","opacity":0.75,"thickness":7},"encoding":{"yError":{"field":"u"}}},
  {"transform":[{"filter":"datum.s=='a'"}],"mark":{"type":"errorbar","color":"#ff0000","thickness":1.5,"ticks":true,"size":5},"encoding":{"yError":{"field":"e"}}},
  {"transform":[{"filter":"datum.s!='a'"}],"mark":{"type":"errorbar","color":"#111111","thickness":1.3,"ticks":true,"size":5},"encoding":{"yError":{"field":"e"}}},
  {"transform":[{"filter":"datum.s=='b'"}],"mark":{"type":"point","shape":"square","filled":true,"color":"#c3bfa6","size":75,"opacity":1},
   "encoding":{"x":{"field":"x","type":"quantitative","axis":{"orient":"top","values":[0,0.1,0.2,0.3,0.4,0.5,0.6,0.7,0.8,0.9,1,1.1,1.2,1.3,1.4,1.5,1.6,1.7,1.8,1.9,2,2.1,2.2,2.3,2.4,2.5,2.6,2.7,2.8,2.9],"tickSize":{"condition":{"test":"round(datum.value*10)%5==0","value":-9},"value":-5},"labels":false,"title":null}},
   "y":{"field":"y","type":"quantitative","axis":{"orient":"right","values":[0,0.02,0.04,0.06,0.08,0.1,0.12,0.14,0.16,0.18,0.2,0.22,0.24,0.26,0.28,0.3,0.32,0.34,0.36,0.38,0.4,0.42,0.44,0.46,0.48,0.5,0.52,0.54,0.56,0.58,0.6,0.62,0.64,0.66,0.68,0.7,0.72,0.74,0.76,0.78,0.8],"tickSize":{"condition":{"test":"round(datum.value*100)%10==0","value":-9},"value":-5},"labels":false,"title":null}}}},
  {"transform":[{"filter":"datum.s=='a'||datum.s=='b'"}],"mark":{"type":"point","filled":false,"size":75,"strokeWidth":1.3,"opacity":1},
   "encoding":{"x":{"field":"x","type":"quantitative","axis":{"orient":"bottom","values":[0,0.1,0.2,0.3,0.4,0.5,0.6,0.7,0.8,0.9,1,1.1,1.2,1.3,1.4,1.5,1.6,1.7,1.8,1.9,2,2.1,2.2,2.3,2.4,2.5,2.6,2.7,2.8,2.9],"tickSize":{"condition":{"test":"round(datum.value*10)%5==0","value":-9},"value":-5},"labelExpr":"round(datum.value*10)%5==0 ? format(datum.value,'~g') : ''","labelPadding":16,"title":"pT (GeV/c)","titleAnchor":"end","titlePadding":2}},
   "y":{"field":"y","type":"quantitative","axis":{"orient":"left","values":[0,0.02,0.04,0.06,0.08,0.1,0.12,0.14,0.16,0.18,0.2,0.22,0.24,0.26,0.28,0.3,0.32,0.34,0.36,0.38,0.4,0.42,0.44,0.46,0.48,0.5,0.52,0.54,0.56,0.58,0.6,0.62,0.64,0.66,0.68,0.7,0.72,0.74,0.76,0.78,0.8],"tickSize":{"condition":{"test":"round(datum.value*100)%10==0","value":-9},"value":-5},"labels":false,"title":null}},
   "shape":{"field":"s","type":"nominal","scale":{"domain":["a","b"],"range":["circle","square"]},"legend":{"orient":"none","legendX":25,"legendY":45,"title":null,"padding":0,"labelExpr":"datum.label=='a' ? 'p+p √s̅ = 200 GeV' : 'p+p √s̅ = 62.4 GeV'","labelFontSize":16,"labelFontWeight":"bold","labelColor":"#000","symbolSize":75,"symbolStrokeWidth":1.3,"labelOffset":3,"rowPadding":1}},
   "stroke":{"field":"s","type":"nominal","scale":{"domain":["a","b"],"range":["#ff0000","#1a1a1a"]},"legend":{"orient":"none","legendX":25,"legendY":45,"title":null,"padding":0,"labelExpr":"datum.label=='a' ? 'p+p √s̅ = 200 GeV' : 'p+p √s̅ = 62.4 GeV'","labelFontSize":16,"labelFontWeight":"bold","labelColor":"#000","symbolSize":75,"symbolStrokeWidth":1.3,"labelOffset":3,"rowPadding":1}}}},
  {"transform":[{"filter":"datum.s=='S'||datum.s=='I'"}],"mark":{"type":"point","filled":true,"fill":"#ffffff","stroke":"#111111","strokeWidth":1,"size":90,"opacity":1},
   "encoding":{"shape":{"field":"s","type":"nominal","scale":{"domain":["S","I"],"range":["M0,-1L0.235,-0.324L0.951,-0.309L0.38,0.124L0.588,0.809L0,0.4L-0.588,0.809L-0.38,0.124L-0.951,-0.309L-0.235,-0.324Z","cross"]},"legend":null}}}
 ]},
{"width":250,"height":289,
 "title":{"text":"p/π⁺","anchor":"start","frame":"group","offset":-57,"dx":18,"baseline":"alphabetic","fontSize":18,"fontWeight":"bold","color":"#000"},
 "data":{"name":"d"},
 "transform":[{"filter":"datum.p==3"}],
 "encoding":{"x":{"field":"x","type":"quantitative","scale":{"domain":[-0.1,4.97],"nice":false,"zero":false},"axis":null},"y":{"field":"y","type":"quantitative","scale":{"domain":[0,0.808],"nice":false,"zero":false},"axis":null}},
 "resolve":{"axis":{"x":"independent","y":"independent"},"scale":{"shape":"independent","stroke":"independent"}},
 "layer":[
  {"transform":[{"filter":"datum.s=='a'"}],"mark":{"type":"errorbar","color":"#deb887","opacity":0.75,"thickness":6},"encoding":{"yError":{"field":"u"}}},
  {"transform":[{"filter":"datum.s=='b'"}],"mark":{"type":"errorbar","color":"#b3b092","opacity":0.75,"thickness":6},"encoding":{"yError":{"field":"u"}}},
  {"transform":[{"filter":"datum.s=='a'"}],"mark":{"type":"errorbar","color":"#ff0000","thickness":1.5,"ticks":true,"size":5},"encoding":{"yError":{"field":"e"}}},
  {"transform":[{"filter":"datum.s!='a'"}],"mark":{"type":"errorbar","color":"#111111","thickness":1.3,"ticks":true,"size":5},"encoding":{"yError":{"field":"e"}}},
  {"transform":[{"filter":"datum.s=='b'"}],"mark":{"type":"point","shape":"square","filled":true,"color":"#c3bfa6","size":75,"opacity":1},
   "encoding":{"x":{"field":"x","type":"quantitative","axis":{"orient":"top","values":[0,0.2,0.4,0.6,0.8,1,1.2,1.4,1.6,1.8,2,2.2,2.4,2.6,2.8,3,3.2,3.4,3.6,3.8,4,4.2,4.4,4.6,4.8],"tickSize":{"condition":{"test":"round(datum.value*10)%10==0","value":-9},"value":-5},"labels":false,"title":null}},
   "y":{"field":"y","type":"quantitative","axis":{"orient":"right","values":[0,0.02,0.04,0.06,0.08,0.1,0.12,0.14,0.16,0.18,0.2,0.22,0.24,0.26,0.28,0.3,0.32,0.34,0.36,0.38,0.4,0.42,0.44,0.46,0.48,0.5,0.52,0.54,0.56,0.58,0.6,0.62,0.64,0.66,0.68,0.7,0.72,0.74,0.76,0.78,0.8],"tickSize":{"condition":{"test":"round(datum.value*100)%10==0","value":-9},"value":-5},"labels":false,"title":null}}}},
  {"transform":[{"filter":"datum.s=='a'||datum.s=='b'"}],"mark":{"type":"point","filled":false,"size":75,"strokeWidth":1.3,"opacity":1},
   "encoding":{"x":{"field":"x","type":"quantitative","axis":{"orient":"bottom","values":[0,0.2,0.4,0.6,0.8,1,1.2,1.4,1.6,1.8,2,2.2,2.4,2.6,2.8,3,3.2,3.4,3.6,3.8,4,4.2,4.4,4.6,4.8],"tickSize":{"condition":{"test":"round(datum.value*10)%10==0","value":-9},"value":-5},"labelExpr":"round(datum.value*10)%10==0 ? format(datum.value,'d') : ''","labelPadding":16,"title":"pT (GeV/c)","titleAnchor":"end","titlePadding":2}},
   "y":{"field":"y","type":"quantitative","axis":{"orient":"left","values":[0,0.02,0.04,0.06,0.08,0.1,0.12,0.14,0.16,0.18,0.2,0.22,0.24,0.26,0.28,0.3,0.32,0.34,0.36,0.38,0.4,0.42,0.44,0.46,0.48,0.5,0.52,0.54,0.56,0.58,0.6,0.62,0.64,0.66,0.68,0.7,0.72,0.74,0.76,0.78,0.8],"tickSize":{"condition":{"test":"round(datum.value*100)%10==0","value":-9},"value":-5},"labelExpr":"round(datum.value*100)%10==0 ? format(datum.value,'~g') : ''","labelPadding":12,"title":"Ratio","titleAnchor":"end","titlePadding":3}},
   "shape":{"field":"s","type":"nominal","scale":{"domain":["a","b"],"range":["circle","square"]},"legend":{"orient":"none","legendX":14,"legendY":43,"title":null,"padding":0,"labelExpr":"datum.label=='a' ? 'p+p √s̅ = 200 GeV' : 'p+p √s̅ = 62.4 GeV'","labelFontSize":16,"labelFontWeight":"bold","labelColor":"#000","symbolSize":75,"symbolStrokeWidth":1.3,"labelOffset":3,"rowPadding":1}},
   "stroke":{"field":"s","type":"nominal","scale":{"domain":["a","b"],"range":["#ff0000","#1a1a1a"]},"legend":{"orient":"none","legendX":14,"legendY":43,"title":null,"padding":0,"labelExpr":"datum.label=='a' ? 'p+p √s̅ = 200 GeV' : 'p+p √s̅ = 62.4 GeV'","labelFontSize":16,"labelFontWeight":"bold","labelColor":"#000","symbolSize":75,"symbolStrokeWidth":1.3,"labelOffset":3,"rowPadding":1}}}},
  {"transform":[{"filter":"datum.s=='S'||datum.s=='I'"}],"mark":{"type":"point","filled":true,"fill":"#ffffff","stroke":"#111111","strokeWidth":1,"size":90,"opacity":1},
   "encoding":{"shape":{"field":"s","type":"nominal","scale":{"domain":["S","I"],"range":["M0,-1L0.235,-0.324L0.951,-0.309L0.38,0.124L0.588,0.809L0,0.4L-0.588,0.809L-0.38,0.124L-0.951,-0.309L-0.235,-0.324Z","cross"]},"legend":{"orient":"none","legendX":92,"legendY":242,"title":null,"padding":0,"labelExpr":"datum.label=='S' ? 'STAR 200 GeV p+p' : 'ISR 63 GeV p+p'","labelFontSize":15,"labelFontWeight":"bold","labelColor":"#000","symbolSize":90,"labelOffset":3,"rowPadding":0,"encode":{"symbols":{"update":{"fill":{"value":"#ffffff"},"stroke":{"value":"#111111"},"strokeWidth":{"value":1},"opacity":{"value":1}}}}}}}}
 ]},
{"width":250,"height":289,
 "title":{"text":"¯/π⁻p","anchor":"start","frame":"group","offset":-55,"dx":20,"baseline":"alphabetic","fontSize":18,"fontWeight":"bold","color":"#000"},
 "data":{"name":"d"},
 "transform":[{"filter":"datum.p==4"}],
 "encoding":{"x":{"field":"x","type":"quantitative","scale":{"domain":[-0.1,4.97],"nice":false,"zero":false},"axis":null},"y":{"field":"y","type":"quantitative","scale":{"domain":[0,0.808],"nice":false,"zero":false},"axis":null}},
 "resolve":{"axis":{"x":"independent","y":"independent"},"scale":{"shape":"independent","stroke":"independent"}},
 "layer":[
  {"transform":[{"filter":"datum.s=='a'"}],"mark":{"type":"errorbar","color":"#deb887","opacity":0.75,"thickness":6},"encoding":{"yError":{"field":"u"}}},
  {"transform":[{"filter":"datum.s=='b'"}],"mark":{"type":"errorbar","color":"#b3b092","opacity":0.75,"thickness":6},"encoding":{"yError":{"field":"u"}}},
  {"transform":[{"filter":"datum.s=='a'"}],"mark":{"type":"errorbar","color":"#ff0000","thickness":1.5,"ticks":true,"size":5},"encoding":{"yError":{"field":"e"}}},
  {"transform":[{"filter":"datum.s!='a'"}],"mark":{"type":"errorbar","color":"#111111","thickness":1.3,"ticks":true,"size":5},"encoding":{"yError":{"field":"e"}}},
  {"transform":[{"filter":"datum.s=='b'"}],"mark":{"type":"point","shape":"square","filled":true,"color":"#c3bfa6","size":75,"opacity":1},
   "encoding":{"x":{"field":"x","type":"quantitative","axis":{"orient":"top","values":[0,0.2,0.4,0.6,0.8,1,1.2,1.4,1.6,1.8,2,2.2,2.4,2.6,2.8,3,3.2,3.4,3.6,3.8,4,4.2,4.4,4.6,4.8],"tickSize":{"condition":{"test":"round(datum.value*10)%10==0","value":-9},"value":-5},"labels":false,"title":null}},
   "y":{"field":"y","type":"quantitative","axis":{"orient":"right","values":[0,0.02,0.04,0.06,0.08,0.1,0.12,0.14,0.16,0.18,0.2,0.22,0.24,0.26,0.28,0.3,0.32,0.34,0.36,0.38,0.4,0.42,0.44,0.46,0.48,0.5,0.52,0.54,0.56,0.58,0.6,0.62,0.64,0.66,0.68,0.7,0.72,0.74,0.76,0.78,0.8],"tickSize":{"condition":{"test":"round(datum.value*100)%10==0","value":-9},"value":-5},"labels":false,"title":null}}}},
  {"transform":[{"filter":"datum.s=='a'||datum.s=='b'"}],"mark":{"type":"point","filled":false,"size":75,"strokeWidth":1.3,"opacity":1},
   "encoding":{"x":{"field":"x","type":"quantitative","axis":{"orient":"bottom","values":[0,0.2,0.4,0.6,0.8,1,1.2,1.4,1.6,1.8,2,2.2,2.4,2.6,2.8,3,3.2,3.4,3.6,3.8,4,4.2,4.4,4.6,4.8],"tickSize":{"condition":{"test":"round(datum.value*10)%10==0","value":-9},"value":-5},"labelExpr":"round(datum.value*10)%10==0 ? format(datum.value,'d') : ''","labelPadding":16,"title":"pT (GeV/c)","titleAnchor":"end","titlePadding":2}},
   "y":{"field":"y","type":"quantitative","axis":{"orient":"left","values":[0,0.02,0.04,0.06,0.08,0.1,0.12,0.14,0.16,0.18,0.2,0.22,0.24,0.26,0.28,0.3,0.32,0.34,0.36,0.38,0.4,0.42,0.44,0.46,0.48,0.5,0.52,0.54,0.56,0.58,0.6,0.62,0.64,0.66,0.68,0.7,0.72,0.74,0.76,0.78,0.8],"tickSize":{"condition":{"test":"round(datum.value*100)%10==0","value":-9},"value":-5},"labels":false,"title":null}},
   "shape":{"field":"s","type":"nominal","scale":{"domain":["a","b"],"range":["circle","square"]},"legend":{"orient":"none","legendX":14,"legendY":43,"title":null,"padding":0,"labelExpr":"datum.label=='a' ? 'p+p √s̅ = 200 GeV' : 'p+p √s̅ = 62.4 GeV'","labelFontSize":16,"labelFontWeight":"bold","labelColor":"#000","symbolSize":75,"symbolStrokeWidth":1.3,"labelOffset":3,"rowPadding":1}},
   "stroke":{"field":"s","type":"nominal","scale":{"domain":["a","b"],"range":["#ff0000","#1a1a1a"]},"legend":{"orient":"none","legendX":14,"legendY":43,"title":null,"padding":0,"labelExpr":"datum.label=='a' ? 'p+p √s̅ = 200 GeV' : 'p+p √s̅ = 62.4 GeV'","labelFontSize":16,"labelFontWeight":"bold","labelColor":"#000","symbolSize":75,"symbolStrokeWidth":1.3,"labelOffset":3,"rowPadding":1}}}},
  {"transform":[{"filter":"datum.s=='S'||datum.s=='I'"}],"mark":{"type":"point","filled":true,"fill":"#ffffff","stroke":"#111111","strokeWidth":1,"size":90,"opacity":1},
   "encoding":{"shape":{"field":"s","type":"nominal","scale":{"domain":["S","I"],"range":["M0,-1L0.235,-0.324L0.951,-0.309L0.38,0.124L0.588,0.809L0,0.4L-0.588,0.809L-0.38,0.124L-0.951,-0.309L-0.235,-0.324Z","cross"]},"legend":null}}}
 ]},
{"width":250,"height":289,
 "title":{"text":"p/π⁰","anchor":"start","frame":"group","offset":-56,"dx":18,"baseline":"alphabetic","fontSize":18,"fontWeight":"bold","color":"#000"},
 "data":{"name":"d"},
 "transform":[{"filter":"datum.p==5"}],
 "encoding":{"x":{"field":"x","type":"quantitative","scale":{"domain":[-0.1,4.97],"nice":false,"zero":false},"axis":null},"y":{"field":"y","type":"quantitative","scale":{"domain":[0,0.808],"nice":false,"zero":false},"axis":null}},
 "resolve":{"axis":{"x":"independent","y":"independent"}},
 "layer":[
  {"transform":[{"filter":"datum.s=='a'"}],"mark":{"type":"errorbar","color":"#deb887","opacity":0.75,"thickness":6},"encoding":{"yError":{"field":"u"}}},
  {"transform":[{"filter":"datum.s=='b'"}],"mark":{"type":"errorbar","color":"#b3b092","opacity":0.75,"thickness":6},"encoding":{"yError":{"field":"u"}}},
  {"transform":[{"filter":"datum.s=='a'"}],"mark":{"type":"errorbar","color":"#ff0000","thickness":1.5,"ticks":true,"size":5},"encoding":{"yError":{"field":"e"}}},
  {"transform":[{"filter":"datum.s!='a'"}],"mark":{"type":"errorbar","color":"#111111","thickness":1.3,"ticks":true,"size":5},"encoding":{"yError":{"field":"e"}}},
  {"transform":[{"filter":"datum.s=='b'"}],"mark":{"type":"point","shape":"square","filled":true,"color":"#c3bfa6","size":75,"opacity":1},
   "encoding":{"x":{"field":"x","type":"quantitative","axis":{"orient":"top","values":[0,0.2,0.4,0.6,0.8,1,1.2,1.4,1.6,1.8,2,2.2,2.4,2.6,2.8,3,3.2,3.4,3.6,3.8,4,4.2,4.4,4.6,4.8],"tickSize":{"condition":{"test":"round(datum.value*10)%10==0","value":-9},"value":-5},"labels":false,"title":null}},
   "y":{"field":"y","type":"quantitative","axis":{"orient":"right","values":[0,0.02,0.04,0.06,0.08,0.1,0.12,0.14,0.16,0.18,0.2,0.22,0.24,0.26,0.28,0.3,0.32,0.34,0.36,0.38,0.4,0.42,0.44,0.46,0.48,0.5,0.52,0.54,0.56,0.58,0.6,0.62,0.64,0.66,0.68,0.7,0.72,0.74,0.76,0.78,0.8],"tickSize":{"condition":{"test":"round(datum.value*100)%10==0","value":-9},"value":-5},"labels":false,"title":null}}}},
  {"transform":[{"filter":"datum.s=='a'||datum.s=='b'"}],"mark":{"type":"point","filled":false,"size":75,"strokeWidth":1.3,"opacity":1},
   "encoding":{"x":{"field":"x","type":"quantitative","axis":{"orient":"bottom","values":[0,0.2,0.4,0.6,0.8,1,1.2,1.4,1.6,1.8,2,2.2,2.4,2.6,2.8,3,3.2,3.4,3.6,3.8,4,4.2,4.4,4.6,4.8],"tickSize":{"condition":{"test":"round(datum.value*10)%10==0","value":-9},"value":-5},"labelExpr":"round(datum.value*10)%10==0 ? format(datum.value,'d') : ''","labelPadding":16,"title":"pT (GeV/c)","titleAnchor":"end","titlePadding":2}},
   "y":{"field":"y","type":"quantitative","axis":{"orient":"left","values":[0,0.02,0.04,0.06,0.08,0.1,0.12,0.14,0.16,0.18,0.2,0.22,0.24,0.26,0.28,0.3,0.32,0.34,0.36,0.38,0.4,0.42,0.44,0.46,0.48,0.5,0.52,0.54,0.56,0.58,0.6,0.62,0.64,0.66,0.68,0.7,0.72,0.74,0.76,0.78,0.8],"tickSize":{"condition":{"test":"round(datum.value*100)%10==0","value":-9},"value":-5},"labelExpr":"round(datum.value*100)%10==0 ? format(datum.value,'~g') : ''","labelPadding":12,"title":"Ratio","titleAnchor":"end","titlePadding":3}},
   "shape":{"field":"s","type":"nominal","scale":{"domain":["a","b"],"range":["circle","square"]},"legend":{"orient":"none","legendX":14,"legendY":43,"title":null,"padding":0,"labelExpr":"datum.label=='a' ? 'p+p √s̅ = 200 GeV' : 'p+p √s̅ = 62.4 GeV'","labelFontSize":16,"labelFontWeight":"bold","labelColor":"#000","symbolSize":75,"symbolStrokeWidth":1.3,"labelOffset":3,"rowPadding":1}},
   "stroke":{"field":"s","type":"nominal","scale":{"domain":["a","b"],"range":["#ff0000","#1a1a1a"]},"legend":{"orient":"none","legendX":14,"legendY":43,"title":null,"padding":0,"labelExpr":"datum.label=='a' ? 'p+p √s̅ = 200 GeV' : 'p+p √s̅ = 62.4 GeV'","labelFontSize":16,"labelFontWeight":"bold","labelColor":"#000","symbolSize":75,"symbolStrokeWidth":1.3,"labelOffset":3,"rowPadding":1}}}}
 ]},
{"width":250,"height":289,
 "title":{"text":"¯/π⁰p","anchor":"start","frame":"group","offset":-55,"dx":20,"baseline":"alphabetic","fontSize":18,"fontWeight":"bold","color":"#000"},
 "data":{"name":"d"},
 "transform":[{"filter":"datum.p==6"}],
 "encoding":{"x":{"field":"x","type":"quantitative","scale":{"domain":[-0.1,4.97],"nice":false,"zero":false},"axis":null},"y":{"field":"y","type":"quantitative","scale":{"domain":[0,0.808],"nice":false,"zero":false},"axis":null}},
 "resolve":{"axis":{"x":"independent","y":"independent"}},
 "layer":[
  {"transform":[{"filter":"datum.s=='a'"}],"mark":{"type":"errorbar","color":"#deb887","opacity":0.75,"thickness":6},"encoding":{"yError":{"field":"u"}}},
  {"transform":[{"filter":"datum.s=='b'"}],"mark":{"type":"errorbar","color":"#b3b092","opacity":0.75,"thickness":6},"encoding":{"yError":{"field":"u"}}},
  {"transform":[{"filter":"datum.s=='a'"}],"mark":{"type":"errorbar","color":"#ff0000","thickness":1.5,"ticks":true,"size":5},"encoding":{"yError":{"field":"e"}}},
  {"transform":[{"filter":"datum.s!='a'"}],"mark":{"type":"errorbar","color":"#111111","thickness":1.3,"ticks":true,"size":5},"encoding":{"yError":{"field":"e"}}},
  {"transform":[{"filter":"datum.s=='b'"}],"mark":{"type":"point","shape":"square","filled":true,"color":"#c3bfa6","size":75,"opacity":1},
   "encoding":{"x":{"field":"x","type":"quantitative","axis":{"orient":"top","values":[0,0.2,0.4,0.6,0.8,1,1.2,1.4,1.6,1.8,2,2.2,2.4,2.6,2.8,3,3.2,3.4,3.6,3.8,4,4.2,4.4,4.6,4.8],"tickSize":{"condition":{"test":"round(datum.value*10)%10==0","value":-9},"value":-5},"labels":false,"title":null}},
   "y":{"field":"y","type":"quantitative","axis":{"orient":"right","values":[0,0.02,0.04,0.06,0.08,0.1,0.12,0.14,0.16,0.18,0.2,0.22,0.24,0.26,0.28,0.3,0.32,0.34,0.36,0.38,0.4,0.42,0.44,0.46,0.48,0.5,0.52,0.54,0.56,0.58,0.6,0.62,0.64,0.66,0.68,0.7,0.72,0.74,0.76,0.78,0.8],"tickSize":{"condition":{"test":"round(datum.value*100)%10==0","value":-9},"value":-5},"labels":false,"title":null}}}},
  {"transform":[{"filter":"datum.s=='a'||datum.s=='b'"}],"mark":{"type":"point","filled":false,"size":75,"strokeWidth":1.3,"opacity":1},
   "encoding":{"x":{"field":"x","type":"quantitative","axis":{"orient":"bottom","values":[0,0.2,0.4,0.6,0.8,1,1.2,1.4,1.6,1.8,2,2.2,2.4,2.6,2.8,3,3.2,3.4,3.6,3.8,4,4.2,4.4,4.6,4.8],"tickSize":{"condition":{"test":"round(datum.value*10)%10==0","value":-9},"value":-5},"labelExpr":"round(datum.value*10)%10==0 ? format(datum.value,'d') : ''","labelPadding":16,"title":"pT (GeV/c)","titleAnchor":"end","titlePadding":2}},
   "y":{"field":"y","type":"quantitative","axis":{"orient":"left","values":[0,0.02,0.04,0.06,0.08,0.1,0.12,0.14,0.16,0.18,0.2,0.22,0.24,0.26,0.28,0.3,0.32,0.34,0.36,0.38,0.4,0.42,0.44,0.46,0.48,0.5,0.52,0.54,0.56,0.58,0.6,0.62,0.64,0.66,0.68,0.7,0.72,0.74,0.76,0.78,0.8],"tickSize":{"condition":{"test":"round(datum.value*100)%10==0","value":-9},"value":-5},"labels":false,"title":null}},
   "shape":{"field":"s","type":"nominal","scale":{"domain":["a","b"],"range":["circle","square"]},"legend":{"orient":"none","legendX":14,"legendY":43,"title":null,"padding":0,"labelExpr":"datum.label=='a' ? 'p+p √s̅ = 200 GeV' : 'p+p √s̅ = 62.4 GeV'","labelFontSize":16,"labelFontWeight":"bold","labelColor":"#000","symbolSize":75,"symbolStrokeWidth":1.3,"labelOffset":3,"rowPadding":1}},
   "stroke":{"field":"s","type":"nominal","scale":{"domain":["a","b"],"range":["#ff0000","#1a1a1a"]},"legend":{"orient":"none","legendX":14,"legendY":43,"title":null,"padding":0,"labelExpr":"datum.label=='a' ? 'p+p √s̅ = 200 GeV' : 'p+p √s̅ = 62.4 GeV'","labelFontSize":16,"labelFontWeight":"bold","labelColor":"#000","symbolSize":75,"symbolStrokeWidth":1.3,"labelOffset":3,"rowPadding":1}}}}
 ]}
],
"config":{
 "font":"Liberation Sans",
 "view":{"stroke":"#000000","strokeWidth":1.5,"fill":"#ffffff"},
 "axis":{"domain":false,"grid":false,"tickColor":"#000000","tickWidth":1,"labelFont":"Liberation Sans","labelFontSize":13,"labelFontWeight":"bold","labelColor":"#000000","labelFlush":false,"labelOverlap":false,"titleFont":"Liberation Sans","titleFontSize":12.5,"titleFontWeight":"bold","titleColor":"#000000"},
 "legend":{"labelFont":"Liberation Sans"},
 "title":{"font":"Liberation Sans"}
}
}
